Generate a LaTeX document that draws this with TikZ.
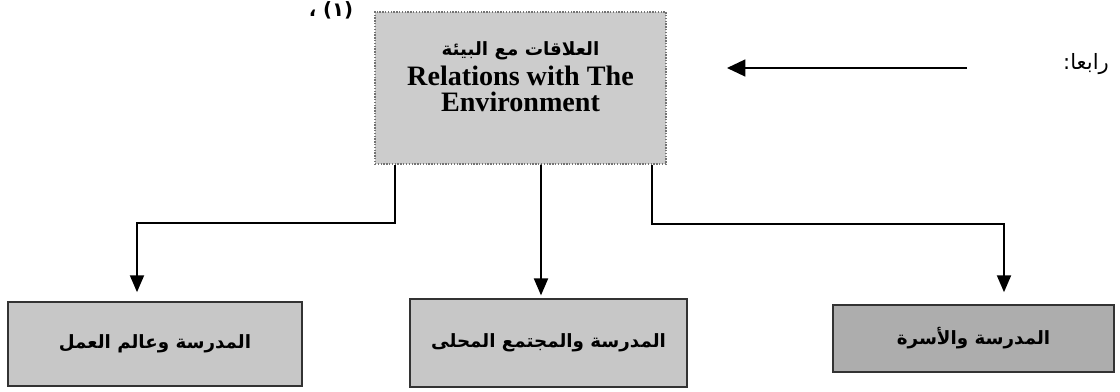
\documentclass[tikz,border=0pt]{standalone}
\usepackage{fontspec}
\setmainfont{Liberation Serif}
\newfontfamily\arabicfont[Script=Arabic]{DejaVu Sans}
\TeXXeTstate=1
\usetikzlibrary{calc,arrows.meta,positioning}

\begin{document}
\begin{tikzpicture}[
	x=0.025cm, y=-0.025cm,
	box/.style={
		draw=black!80, line width=1.2pt, fill=black!22,
		inner sep=2pt, font=\arabicfont\bfseries\fontsize{13}{16}\selectfont
	},
	head/.style={
		draw=black!55, densely dotted, line width=1pt, fill=black!20,
		minimum width=7.275cm, minimum height=3.8cm
	},
	>={Triangle[length=12pt,width=10pt]}, line width=1.2pt
	]
	\useasboundingbox (0,0) rectangle (1120,392);
	% top box
	\node[head] (env) at (520.5,88) {};
	\node[align=center, font=\bfseries\fontsize{20}{18.5}\selectfont] (envtext) at (520.5,77)
		{{\arabicfont\fontsize{13}{17}\selectfont\beginR العلاقات مع البيئة\endR}\\[3pt] Relations with The\\ Environment};
	\node[font=\arabicfont\bfseries\fontsize{14}{17}\selectfont] (ref) at (331,10) {\beginR(١) ،\endR};
	% bottom boxes
	\node[box, minimum width=7.35cm, minimum height=2.1cm] (work) at (155,344) {\beginR المدرسة وعالم العمل\endR};
	\node[box, minimum width=6.925cm, minimum height=2.2cm] (local) at (548.5,343) {\beginR المدرسة والمجتمع المحلى\endR};
	\node[box, fill=black!32, minimum width=7.025cm, minimum height=1.675cm] (family) at (973.5,338.5) {\beginR المدرسة والأسرة\endR};
	% connectors
	\draw[->, shorten >=6.4pt] ($(env.south west)+(21,0)$) -- ++(0,58) -| ($(work.north)+(-18,0)$);
	\draw[->, shorten >=2pt] ($(env.south)+(20.5,0)$) -- ($(local.north)+(-7.5,0)$);
	\draw[->, shorten >=8.5pt] ($(env.south east)+(-15,0)$) -- ++(0,59) -| ($(family.north)+(30.5,0)$);
	% label and arrow on the right
	\node[font=\arabicfont\fontsize{15}{17}\selectfont] (fourth) at (1086,64) {\beginR رابعا:\endR};
	\coordinate (from) at (967,68);
	\coordinate (to) at (727,68);
	\draw[->, >={Triangle[length=13pt,width=12pt]}] (from) -- (to);
\end{tikzpicture}
\end{document}
